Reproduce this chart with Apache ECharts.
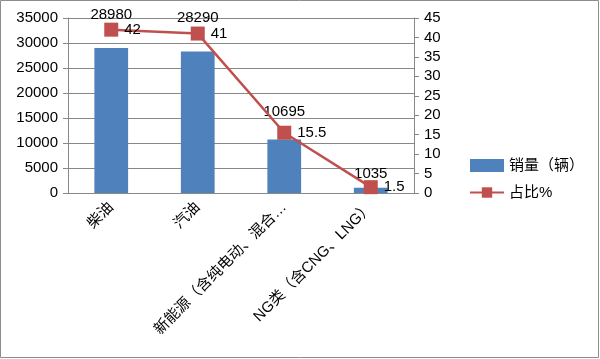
<!DOCTYPE html>
<html><head><meta charset="utf-8">
<script src="https://cdn.jsdelivr.net/npm/echarts@6/dist/echarts.min.js"></script>
<style>html,body{margin:0;padding:0;background:#fff}#c{width:600px;height:359px}</style>
</head><body><div id="c"></div>
<script>
const categories = ['柴油', '汽油', '新能源（含纯电动、混合动力）', 'NG类（含CNG、LNG）'];
const sales = [28980, 28290, 10695, 1035];
const share = [42, 41, 15.5, 1.5];
const leftTicks = [0, 35000, 5000];
const rightTicks = [0, 45, 5];

const barLabelOffsets = [[0, -21], [0, -21], [0, -15], [0, -1]];
const FONT = '"Liberation Sans","Noto Sans CJK SC",sans-serif';

const chart = echarts.init(document.getElementById('c'));
chart.setOption({
  animation: false,
  textStyle: { fontFamily: FONT },
  graphic: [{ type: 'rect', shape: { x: 0.5, y: 0.5, width: 598, height: 357 }, style: { fill: 'none', stroke: '#8c8c8c', lineWidth: 1 } }],
  grid: { left: 68, right: 186, top: 18, bottom: 166 },
  legend: {
    orient: 'vertical', left: 464, top: 153, itemGap: 12, itemWidth: 34, itemHeight: 13,
    textStyle: { fontSize: 15, color: '#000', fontFamily: FONT },
    data: [{ name: '销量（辆）', icon: 'rect' }, { name: '占比%' }]
  },
  xAxis: {
    type: 'category', data: categories,
    axisLine: { lineStyle: { color: '#888' } },
    axisTick: { lineStyle: { color: '#888' }, length: 5 },
    axisLabel: {
      rotate: 45, fontSize: 15, color: '#000', interval: 0, margin: 12,
      formatter: v => v.length > 13 ? v.slice(0, 11) + '…' : v
    }
  },
  yAxis: [{
    type: 'value', min: leftTicks[0], max: leftTicks[1], interval: leftTicks[2],
    axisLine: { show: true, lineStyle: { color: '#888' } },
    axisTick: { show: true, length: 5, lineStyle: { color: '#888' } },
    splitLine: { lineStyle: { color: '#888' } },
    axisLabel: { fontSize: 15, color: '#000', margin: 10, formatter: v => String(v) }
  }, {
    type: 'value', min: rightTicks[0], max: rightTicks[1], interval: rightTicks[2],
    position: 'right',
    axisLine: { show: true, lineStyle: { color: '#888' } },
    axisTick: { show: true, length: 5, lineStyle: { color: '#888' } },
    splitLine: { show: false },
    axisLabel: { fontSize: 15, color: '#000', margin: 10, formatter: v => String(v) }
  }],
  series: [{
    name: '销量（辆）', type: 'bar', barWidth: '39%',
    itemStyle: { color: '#4F81BD' },
    data: sales.map((v, i) => ({ value: v, label: { offset: barLabelOffsets[i] } })),
    label: { show: true, position: 'top', fontSize: 15, color: '#000' }
  }, {
    name: '占比%', type: 'line', yAxisIndex: 1, data: share,
    symbol: 'rect', symbolSize: 14,
    lineStyle: { color: '#C0504D', width: 2.5 },
    itemStyle: { color: '#C0504D' },
    label: { show: true, position: 'right', distance: 6, fontSize: 15, color: '#000' }
  }]
});
</script></body></html>
